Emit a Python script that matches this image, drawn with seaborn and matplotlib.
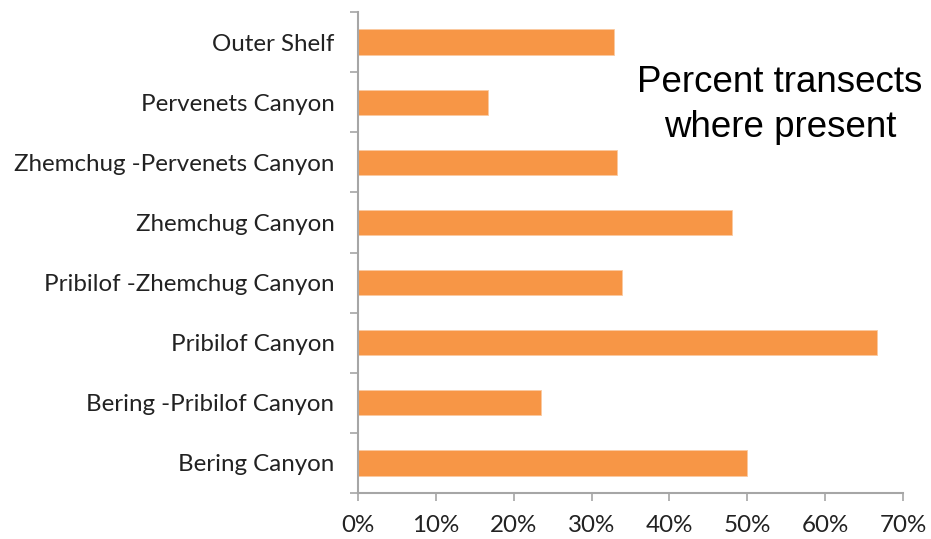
import matplotlib
matplotlib.use("Agg")
import matplotlib.pyplot as plt
from matplotlib.ticker import PercentFormatter, FixedLocator
import seaborn as sns
import pandas as pd

# Canyon regions along the Bering Sea slope, top to bottom
regions = [
    "Outer Shelf",
    "Pervenets Canyon",
    "Zhemchug -Pervenets Canyon",
    "Zhemchug Canyon",
    "Pribilof -Zhemchug Canyon",
    "Pribilof Canyon",
    "Bering -Pribilof Canyon",
    "Bering Canyon",
]
# Percent of transects where present
percent_present = [32.9, 16.7, 33.3, 48.1, 33.9, 66.7, 23.5, 50.0]
x_ticks = [0, 10, 20, 30, 40, 50, 60, 70]

df = pd.DataFrame({"region": regions, "percent": percent_present})

sns.set_theme(style="white")
plt.rcParams["font.family"] = ["Lato", "DejaVu Sans"]

fig = plt.figure(figsize=(9.31, 5.39), dpi=100)
ax = fig.add_axes([358 / 931, 1 - 493 / 539, (903 - 358) / 931, (493 - 12) / 539])

sns.barplot(data=df, x="percent", y="region", orient="h", color="#F79646",
            saturation=1, width=0.42, ax=ax, edgecolor="#FBC9A0", linewidth=0.6)

ax.set_xlim(0, 70)
ax.set_ylim(7.5, -0.5)
ax.xaxis.set_major_locator(FixedLocator(x_ticks))
ax.xaxis.set_major_formatter(PercentFormatter(decimals=0))
ax.set_xlabel("")
ax.set_ylabel("")

# category labels at bar centres, tick marks on band boundaries
ax.set_yticks(range(len(regions)))
ax.set_yticklabels(regions)
ax.set_yticks([i - 0.5 for i in range(len(regions) + 1)], minor=True)
ax.tick_params(axis="y", which="major", length=0, pad=17, labelsize=17.4, labelcolor="#222222")
ax.tick_params(axis="y", which="minor", length=6, width=1.2, color="#a6a6a6", direction="out", left=True)
ax.tick_params(axis="x", which="major", length=6, width=1.2, color="#a6a6a6", direction="out",
               bottom=True, labelsize=17.4, labelcolor="#222222", pad=10)

for side in ["top", "right"]:
    ax.spines[side].set_visible(False)
for side in ["left", "bottom"]:
    ax.spines[side].set_color("#a6a6a6")
    ax.spines[side].set_linewidth(1.5)

fig.text(780 / 931, 1 - 105 / 539, "Percent transects\nwhere present", ha="center", va="center",
         fontsize=26.5, family=["Liberation Sans", "DejaVu Sans"], color="black", linespacing=1.4)

fig.savefig("out.png", dpi=100, facecolor="white")
